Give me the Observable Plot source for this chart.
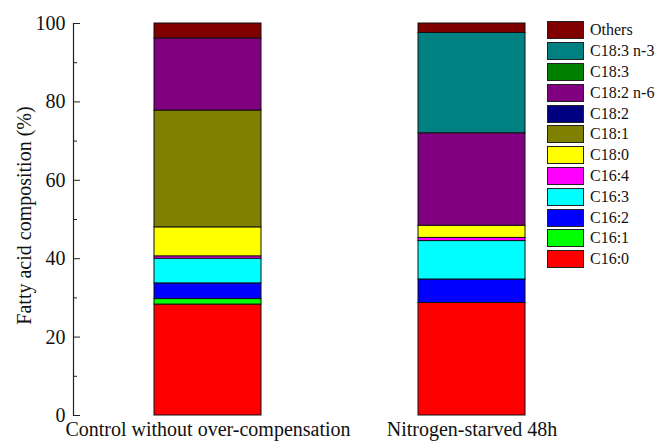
<!DOCTYPE html>
<html>
<head>
<meta charset="utf-8">
<script src="https://cdn.jsdelivr.net/npm/d3@7"></script>
<script src="https://cdn.jsdelivr.net/npm/@observablehq/plot@0.6"></script>
<style>
  html, body { margin: 0; padding: 0; background: #fff; }
  #wrap { position: relative; width: 659px; height: 444px; font-family: Liberation Serif, DejaVu Serif, serif; }
  #wrap svg, #wrap svg text { font-family: Liberation Serif, DejaVu Serif, serif !important; }
  #legend { position: absolute; left: 547px; top: 20px; }
  .row { display: flex; align-items: center; height: 20.8px; }
  .sw { width: 35px; height: 16px; border: 1.2px solid #222; box-sizing: content-box; }
  .lab { margin-left: 6px; font-size: 16px; color: #111; white-space: nowrap; font-family: Liberation Serif, DejaVu Serif, serif; }
</style>
</head>
<body>
<div id="wrap"></div>
<script>
const groups = ["Control without over-compensation", "Nitrogen-starved 48h"];
const acids = ["C16:0", "C16:1", "C16:2", "C16:3", "C16:4", "C18:0", "C18:1", "C18:2", "C18:2 n-6", "C18:3", "C18:3 n-3", "Others"];
const controlValues  = [28.3, 1.4, 4.0, 6.3, 0.6, 7.4, 29.8, 0, 18.4, 0, 0, 3.8];
const nitrogenValues = [28.7, 0, 6.0, 9.8, 0.8, 3.1, 0, 0, 23.6, 0, 25.6, 2.4];
const colors = ["#ff0000", "#00ff00", "#0000ff", "#00ffff", "#ff00ff", "#ffff00", "#808000", "#000080", "#800080", "#008000", "#008080", "#800000"];
const yTicks = [0, 20, 40, 60, 80, 100];
const yMinorTicks = [10, 30, 50, 70, 90];

const table = [];
[controlValues, nitrogenValues].forEach((vals, gi) => {
  vals.forEach((v, i) => { if (v > 0) table.push({group: groups[gi], acid: acids[i], value: v}); });
});

const chart = Plot.plot({
  width: 659,
  height: 444,
  marginLeft: 73,
  marginRight: 54,
  marginTop: 23,
  marginBottom: 29,
  style: {fontFamily: "Liberation Serif, DejaVu Serif, serif", fontSize: "19px", color: "#111", background: "#fff"},
  x: {domain: groups, paddingInner: 0.596, paddingOuter: 0.302, label: null},
  y: {domain: [0, 100], label: null},
  color: {domain: acids, range: colors},
  marks: [
    Plot.barY(table, {x: "group", y: "value", fill: "acid", stroke: "#111", strokeWidth: 1, order: acids, inset: 0}),
    Plot.frame({anchor: "left", stroke: "#222", strokeWidth: 1.2}),
    Plot.axisY({ticks: yTicks, tickSize: -7, tickPadding: 15, fontSize: 20, stroke: "#222", label: null}),
    Plot.axisY({ticks: yMinorTicks, tickSize: -4, text: null, stroke: "#222", label: null}),
    Plot.axisX({tickSize: 0, tickPadding: 6, fontSize: 20, label: null}),
    Plot.text(["Fatty acid composition (%)"], {frameAnchor: "left", dx: -49, dy: -4, rotate: -90, textAnchor: "middle", fontSize: 20, fill: "#111"})
  ]
});

const wrap = document.getElementById("wrap");
wrap.appendChild(chart);

const legend = document.createElement("div");
legend.id = "legend";
acids.slice().reverse().forEach(a => {
  const row = document.createElement("div");
  row.className = "row";
  const sw = document.createElement("div");
  sw.className = "sw";
  sw.style.background = colors[acids.indexOf(a)];
  const lab = document.createElement("span");
  lab.className = "lab";
  lab.textContent = a;
  row.appendChild(sw);
  row.appendChild(lab);
  legend.appendChild(row);
});
wrap.appendChild(legend);
</script>
</body>
</html>
